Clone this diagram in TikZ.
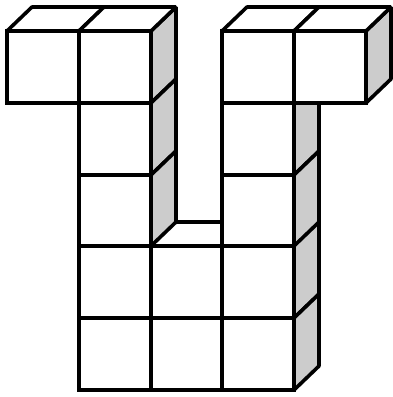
\documentclass[tikz,border=0pt]{standalone}
\usepackage{xcolor}
\definecolor{sidegray}{HTML}{CCCCCC}
\tikzset{
  cubeface/.style={
    draw=black, fill=white, line width=3.6pt, line join=miter
  },
  cubetop/.style={
    draw=black, fill=white, line width=3.6pt, line join=bevel
  },
  cubeside/.style={
    draw=black, fill=sidegray, line width=3.6pt, line join=bevel
  },
}

\begin{document}
\begin{tikzpicture}[x=1pt, y=-1pt]

\useasboundingbox (0,0) rectangle (392,397);

% right faces
\foreach \x/\y in {151/31, 151/103, 151/175, 366/31, 294/103, 294/175, 294/246, 294/318} {
  \draw[cubeside] (\x,\y) -- ++(25,-24) -- ++(0,72) -- ++(-25,24) -- cycle;
}

% top faces
\foreach \x/\y/\w in {7/31/72, 79/31/72, 222/31/72, 294/31/72, 151/246/71} {
  \draw[cubetop] (\x,\y) -- ++(25,-24) -- ++(\w,0) -- ++(-25,24) -- cycle;
}

% front faces
\foreach \x/\y in {7/31, 79/31, 222/31, 294/31,
                   79/103, 222/103,
                   79/175, 222/175,
                   79/246, 151/246, 222/246,
                   79/318, 151/318, 222/318} {
  \draw[cubeface] (\x,\y) rectangle ++(72,72);
}

\end{tikzpicture}
\end{document}
